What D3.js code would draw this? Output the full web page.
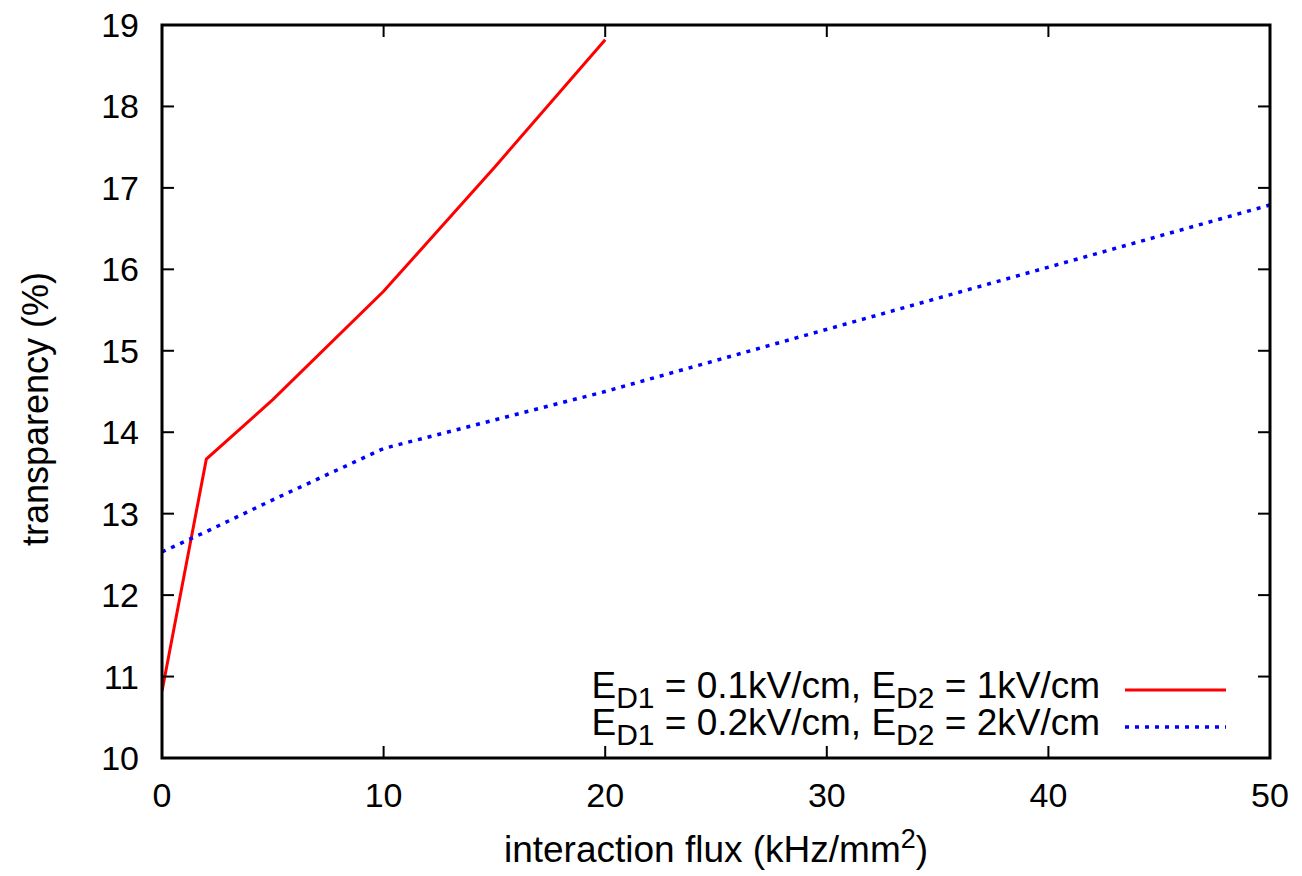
<!DOCTYPE html>
<html>
<head>
<meta charset="utf-8">
<script src="https://cdn.jsdelivr.net/npm/d3@7"></script>
<style>
  body { margin: 0; background: #fff; }
  text { font-family: "Liberation Sans", Arial, sans-serif; fill: #000; }
</style>
</head>
<body>
<div id="chart"></div>
<script>
// data
var fluxLow  = [0, 2, 5, 10, 15, 20];
var transLow = [10.82, 13.67, 14.40, 15.73, 17.25, 18.82];
var fluxHigh  = [0, 2, 5, 10, 20, 50];
var transHigh = [12.53, 12.78, 13.17, 13.80, 14.50, 16.79];
var xTicks = [0, 10, 20, 30, 40, 50];
var yTicks = [10, 11, 12, 13, 14, 15, 16, 17, 18, 19];

var series = [
  { name: "0.1kV/cm", e2: "1kV/cm", x: fluxLow, y: transLow, color: "#ff0000", dash: null, w: 3 },
  { name: "0.2kV/cm", e2: "2kV/cm", x: fluxHigh, y: transHigh, color: "#0000ff", dash: "4,6", w: 3.5 }
];

var W = 1302, H = 876;
var mLeft = 162, mRight = 1270, mTop = 25, mBottom = 758;

var svg = d3.select("#chart").append("svg")
  .attr("width", W).attr("height", H);

var x = d3.scaleLinear().domain([0, 50]).range([mLeft, mRight]);
var y = d3.scaleLinear().domain([10, 19]).range([mBottom, mTop]);

// lines
var line = d3.line()
  .x(function(d) { return x(d[0]); })
  .y(function(d) { return y(d[1]); });

svg.append("defs").append("clipPath").attr("id", "clip")
  .append("rect").attr("x", mLeft).attr("y", mTop)
  .attr("width", mRight - mLeft).attr("height", mBottom - mTop);

series.forEach(function(s) {
  svg.append("path")
    .attr("clip-path", "url(#clip)")
    .attr("d", line(d3.zip(s.x, s.y)))
    .attr("fill", "none")
    .attr("stroke", s.color)
    .attr("stroke-width", s.w)
    .attr("stroke-dasharray", s.dash);
});

// ticks, mirrored on all sides, pointing inward
var tl = 12;
var tk = svg.append("g").attr("stroke", "#000").attr("stroke-width", 2);
xTicks.forEach(function(t) {
  tk.append("line").attr("x1", x(t)).attr("x2", x(t)).attr("y1", mBottom).attr("y2", mBottom - tl);
  tk.append("line").attr("x1", x(t)).attr("x2", x(t)).attr("y1", mTop).attr("y2", mTop + tl);
});
yTicks.forEach(function(t) {
  tk.append("line").attr("y1", y(t)).attr("y2", y(t)).attr("x1", mLeft).attr("x2", mLeft + tl);
  tk.append("line").attr("y1", y(t)).attr("y2", y(t)).attr("x1", mRight).attr("x2", mRight - tl);
});

// frame
svg.append("rect")
  .attr("x", mLeft).attr("y", mTop)
  .attr("width", mRight - mLeft).attr("height", mBottom - mTop)
  .attr("fill", "none").attr("stroke", "#000").attr("stroke-width", 3);

function label(px, py, anchor, size) {
  return svg.append("text")
    .attr("x", px).attr("y", py)
    .attr("text-anchor", anchor)
    .style("font-size", size + "px");
}

xTicks.forEach(function(t) {
  label(x(t), 807, "middle", 34).text(t);
});
yTicks.forEach(function(t) {
  label(139, y(t) + 12, "end", 34).text(t);
});

// axis titles
var xt = label((mLeft + mRight) / 2, 862, "middle", 37);
xt.append("tspan").text("interaction flux (kHz/mm");
xt.append("tspan").attr("dy", -14).style("font-size", "27px").text("2");
xt.append("tspan").attr("dy", 14).text(")");

svg.append("text")
  .attr("transform", "translate(48,409) rotate(-90)")
  .attr("text-anchor", "middle")
  .style("font-size", "36px")
  .text("transparency (%)");

// legend
series.forEach(function(s, i) {
  var ly = 690 + i * 37;
  var t = label(1100, ly + 8, "end", 37);
  t.append("tspan").text("E");
  t.append("tspan").attr("dy", 10).style("font-size", "30px").text("D1");
  t.append("tspan").attr("dy", -10).text(" = " + s.name + ", E");
  t.append("tspan").attr("dy", 10).style("font-size", "30px").text("D2");
  t.append("tspan").attr("dy", -10).text(" = " + s.e2);
  svg.append("line")
    .attr("x1", 1125).attr("x2", 1226)
    .attr("y1", ly).attr("y2", ly)
    .attr("stroke", s.color).attr("stroke-width", s.w)
    .attr("stroke-dasharray", s.dash);
});
</script>
</body>
</html>
